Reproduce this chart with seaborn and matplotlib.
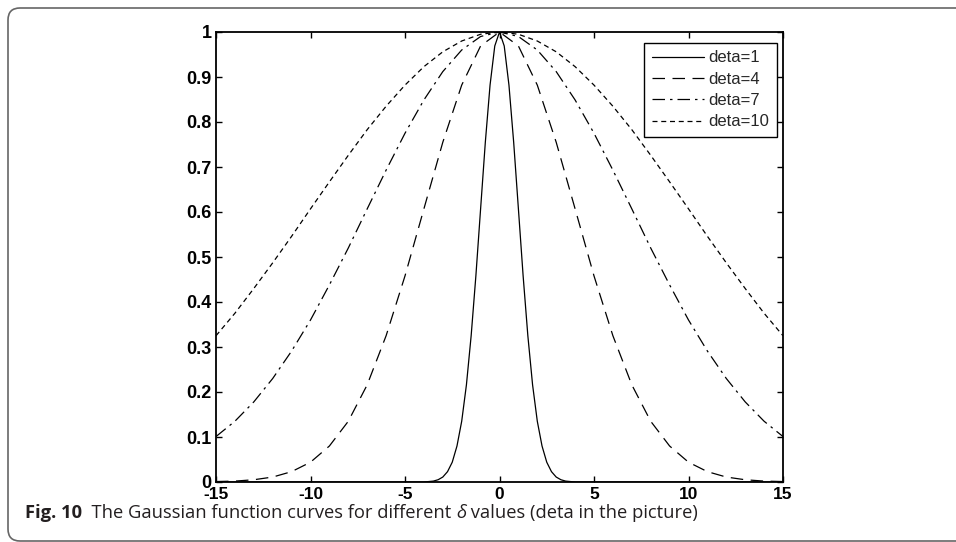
import numpy as np
import pandas as pd
import seaborn as sns
import matplotlib.pyplot as plt
from matplotlib.path import Path
from matplotlib.patches import PathPatch

# values
x_wide = [-15, -14, -13, -12, -11, -10, -9, -8, -7, -6, -5, -4, -3, -2, -1, 0,
          1, 2, 3, 4, 5, 6, 7, 8, 9, 10, 11, 12, 13, 14, 15]
half_d10 = [1.0, 0.995, 0.980, 0.956, 0.923, 0.882, 0.835, 0.783, 0.726, 0.667,
            0.607, 0.546, 0.487, 0.430, 0.375, 0.325]
half_d7 = [1.0, 0.990, 0.960, 0.912, 0.849, 0.775, 0.693, 0.607, 0.520, 0.438,
           0.360, 0.291, 0.230, 0.178, 0.135, 0.101]
half_d4 = [1.0, 0.969, 0.882, 0.755, 0.607, 0.458, 0.325, 0.216, 0.135, 0.080,
           0.044, 0.023, 0.011, 0.005, 0.002, 0.001]

x_narrow = [-15, -4.0, -3.75, -3.5, -3.25, -3.0, -2.75, -2.5, -2.25, -2.0, -1.75,
            -1.5, -1.25, -1.0, -0.75, -0.5, -0.25, 0, 0.25, 0.5, 0.75, 1.0, 1.25,
            1.5, 1.75, 2.0, 2.25, 2.5, 2.75, 3.0, 3.25, 3.5, 3.75, 4.0, 15]
half_d1 = [1.0, 0.969, 0.882, 0.755, 0.607, 0.458, 0.325, 0.216, 0.135, 0.080,
           0.044, 0.023, 0.011, 0.005, 0.002, 0.001, 0.0, 0.0]

labels = ["deta=1", "deta=4", "deta=7", "deta=10"]
x_ticks = [-15, -10, -5, 0, 5, 10, 15]
y_ticks = [0, 0.1, 0.2, 0.3, 0.4, 0.5, 0.6, 0.7, 0.8, 0.9, 1]
y_tick_labels = ["0", "0.1", "0.2", "0.3", "0.4", "0.5", "0.6", "0.7", "0.8", "0.9", "1"]


def mirror(half):
    # curves are symmetric around x=0
    return half[::-1] + half[1:]


series = {
    "deta=1": (x_narrow, mirror(half_d1)),
    "deta=4": (x_wide, mirror(half_d4)),
    "deta=7": (x_wide, mirror(half_d7)),
    "deta=10": (x_wide, mirror(half_d10)),
}
styles = {
    "deta=1": "-",
    "deta=4": (0, (10, 6)),
    "deta=7": (0, (10, 4, 2, 4)),
    "deta=10": (0, (4, 3)),
}

sns.set_style("ticks")
plt.rcParams["font.family"] = ["Liberation Sans", "DejaVu Sans"]

W, H = 956, 542
fig = plt.figure(figsize=(W / 100, H / 100), dpi=100)
ax = fig.add_axes([216 / W, 1 - 482 / H, 567 / W, 450 / H])

for name in labels:
    xs, ys = series[name]
    df = pd.DataFrame({"x": xs, "y": ys})
    sns.lineplot(data=df, x="x", y="y", ax=ax, color="black", linewidth=0.9,
                 linestyle=styles[name], label=name, estimator=None)

ax.set_xlim(-15, 15)
ax.set_ylim(0, 1)
ax.set_xticks(x_ticks)
ax.set_xticklabels([str(t) for t in x_ticks])
ax.set_yticks(y_ticks)
ax.set_yticklabels(y_tick_labels)
ax.set_xlabel("")
ax.set_ylabel("")
for s in ax.spines.values():
    s.set_visible(True)
    s.set_linewidth(1.3)
    s.set_color("black")
ax.tick_params(direction="in", top=True, right=True, length=4, width=1,
               pad=3, labelsize=13, colors="black")
ax.tick_params(axis="x", pad=3.5, labelsize=12.5)
for t in ax.get_xticklabels() + ax.get_yticklabels():
    t.set_fontweight("bold")

leg = ax.legend(loc="upper right", bbox_to_anchor=(777 / W, 1 - 43 / H),
                bbox_transform=fig.transFigure, borderaxespad=0,
                fancybox=False, framealpha=1, edgecolor="black",
                fontsize=12, handlelength=3.1, handletextpad=0.3,
                labelspacing=0.38, borderpad=0.45)
leg.get_frame().set_linewidth(1.0)

# rounded frame round the figure, open on the right side
r = 12
left, top, bottom = 8, 8, 541
pts = [(W + 20, top), (left + r, top), (left, top), (left, top + r),
       (left, bottom - r), (left, bottom), (left + r, bottom), (W + 20, bottom)]
codes = [Path.MOVETO, Path.LINETO, Path.CURVE3, Path.CURVE3,
         Path.LINETO, Path.CURVE3, Path.CURVE3, Path.LINETO]
verts = [(px / W, 1 - py / H) for px, py in pts]
fig.patches.append(PathPatch(Path(verts, codes), transform=fig.transFigure,
                             fill=False, edgecolor="#666666", linewidth=1.2))

# caption, pieced together so that delta can be italic
fig.canvas.draw()
renderer = fig.canvas.get_renderer()
cap_y = 1 - 518 / H
cap_x = 25 / W
parts = [("Fig. 10", "bold", "normal"),
         ("  The Gaussian function curves for different ", "normal", "normal"),
         ("δ", "normal", "italic"),
         (" values (deta in the picture)", "normal", "normal")]
for text, weight, style in parts:
    t = fig.text(cap_x, cap_y, text, fontsize=13.2, fontweight=weight,
                 fontstyle=style, family=["Open Sans", "DejaVu Sans"],
                 color="#231f20", va="baseline", ha="left")
    bb = t.get_window_extent(renderer=renderer)
    cap_x = bb.x1 / W

fig.savefig("out.png", dpi=100)
